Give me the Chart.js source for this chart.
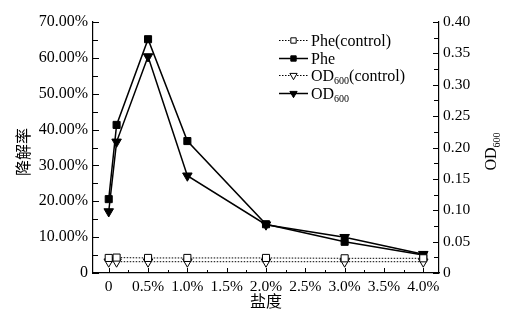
<!DOCTYPE html>
<html><head><meta charset="utf-8">
<script src="https://cdn.jsdelivr.net/npm/chart.js@4/dist/chart.umd.min.js"></script>
<style>html,body{margin:0;padding:0;background:#fff}canvas{display:block}</style>
</head><body>
<canvas id="c" width="523" height="315"></canvas>
<script>
// ---- data ----
const salinity = [0, 0.1, 0.5, 1.0, 2.0, 3.0, 4.0];
const pheControl = [4.2, 4.3, 4.2, 4.2, 4.2, 4.1, 4.1];
const phe = [20.6, 41.3, 65.2, 36.8, 13.6, 8.7, 5.0];
const odControl = [0.018, 0.018, 0.018, 0.018, 0.018, 0.018, 0.018];
const od = [0.098, 0.209, 0.345, 0.155, 0.077, 0.057, 0.030];
const seriesLabels = ['Phe(control)', 'Phe', 'OD600(control)', 'OD600'];
const xTickValues = [0, 0.5, 1.0, 1.5, 2.0, 2.5, 3.0, 3.5, 4.0];
const xTickLabels = ['0', '0.5%', '1.0%', '1.5%', '2.0%', '2.5%', '3.0%', '3.5%', '4.0%'];
const leftTickValues = [0, 10, 20, 30, 40, 50, 60, 70];
const leftTickLabels = ['0', '10.00%', '20.00%', '30.00%', '40.00%', '50.00%', '60.00%', '70.00%'];
const rightTickValues = [0, 0.05, 0.10, 0.15, 0.20, 0.25, 0.30, 0.35, 0.40];
const rightTickLabels = ['0', '0.05', '0.10', '0.15', '0.20', '0.25', '0.30', '0.35', '0.40'];
const xTitle = '盐度';
const leftTitle = '降解率';
const rightTitle = 'OD600';

// ---- build ----
const SERIF = "'Liberation Serif','Times New Roman','Noto Sans CJK SC',serif";
const pts = arr => salinity.map((x, i) => ({x: x, y: arr[i]}));

const styles = [
  {data: pheControl, axis: 'yL', dash: [1.5, 1.5], width: 1, style: 'rect', rot: 0, fill: '#fff', r: 5},
  {data: phe, axis: 'yL', dash: [], width: 1.5, style: 'rect', rot: 0, fill: '#000', r: 5},
  {data: odControl, axis: 'yR', dash: [1.5, 1.5], width: 1, style: 'triangle', rot: 180, fill: '#fff', r: 5.5},
  {data: od, axis: 'yR', dash: [], width: 1.5, style: 'triangle', rot: 180, fill: '#000', r: 5.5}
];

const datasets = styles.map((s, i) => ({
  label: seriesLabels[i],
  data: pts(s.data),
  yAxisID: s.axis,
  borderColor: '#000',
  borderWidth: s.width,
  borderDash: s.dash,
  tension: 0,
  fill: false,
  pointStyle: s.style,
  pointRotation: s.rot,
  pointRadius: s.r,
  pointHoverRadius: s.r,
  pointBackgroundColor: s.fill,
  pointBorderColor: '#000',
  pointBorderWidth: 1
}));

function setTicks(values) {
  return function(scale) { scale.ticks = values.map(v => ({value: v})); };
}

function drawRich(ctx, text, x, y, size, align) {
  // draws text where "600" after "OD" is a subscript
  const m = text.match(/^(OD)(600)(.*)$/);
  const big = size + "px " + SERIF, small = Math.round(size * 0.62) + "px " + SERIF;
  ctx.textBaseline = 'alphabetic';
  ctx.textAlign = 'left';
  if (!m) {
    ctx.font = big;
    let w = ctx.measureText(text).width;
    let sx = align === 'center' ? x - w / 2 : x;
    ctx.fillText(text, sx, y);
    return;
  }
  ctx.font = big; const w1 = ctx.measureText(m[1]).width;
  ctx.font = small; const w2 = ctx.measureText(m[2]).width;
  ctx.font = big; const w3 = ctx.measureText(m[3]).width;
  let sx = align === 'center' ? x - (w1 + w2 + w3) / 2 : x;
  ctx.font = big; ctx.fillText(m[1], sx, y);
  ctx.font = small; ctx.fillText(m[2], sx + w1, y + size * 0.22);
  ctx.font = big; ctx.fillText(m[3], sx + w1 + w2, y);
}

const inwardTicks = {
  id: 'inwardTicks',
  beforeDatasetsDraw(chart) {
    const ctx = chart.ctx, a = chart.chartArea;
    const xs = chart.scales.x, yl = chart.scales.yL, yr = chart.scales.yR;
    ctx.save();
    ctx.strokeStyle = '#000';
    ctx.lineWidth = 1;
    const minor = vals => { const o = []; for (let i = 0; i < vals.length - 1; i++) o.push((vals[i] + vals[i + 1]) / 2); return o; };
    ctx.beginPath();
    xTickValues.forEach(v => { const p = Math.round(xs.getPixelForValue(v)) + 0.5; ctx.moveTo(p, a.bottom); ctx.lineTo(p, a.bottom - 5); });
    minor(xTickValues).forEach(v => { const p = Math.round(xs.getPixelForValue(v)) + 0.5; ctx.moveTo(p, a.bottom); ctx.lineTo(p, a.bottom - 3); });
    leftTickValues.forEach(v => { const p = Math.round(yl.getPixelForValue(v)) + 0.5; ctx.moveTo(a.left, p); ctx.lineTo(a.left + 6, p); });
    minor(leftTickValues).forEach(v => { const p = Math.round(yl.getPixelForValue(v)) + 0.5; ctx.moveTo(a.left, p); ctx.lineTo(a.left + 5, p); });
    rightTickValues.forEach(v => { const p = Math.round(yr.getPixelForValue(v)) + 0.5; ctx.moveTo(a.right, p); ctx.lineTo(a.right - 6, p); });
    minor(rightTickValues).forEach(v => { const p = Math.round(yr.getPixelForValue(v)) + 0.5; ctx.moveTo(a.right, p); ctx.lineTo(a.right - 5, p); });
    ctx.stroke();
    ctx.restore();
  }
};

const customText = {
  id: 'customText',
  afterDraw(chart) {
    const ctx = chart.ctx, a = chart.chartArea;
    // left axis title, rotated to read bottom-to-top
    ctx.save();
    ctx.fillStyle = '#000';
    ctx.translate(25, 152);
    ctx.rotate(-Math.PI / 2);
    ctx.font = "16px " + SERIF;
    ctx.textAlign = 'center';
    ctx.textBaseline = 'middle';
    ctx.fillText(leftTitle, 0, 0);
    ctx.restore();

    // right axis title, rotated to read bottom-to-top
    ctx.save();
    ctx.fillStyle = '#000';
    ctx.translate(491, (a.top + a.bottom) / 2 + 4);
    ctx.rotate(-Math.PI / 2);
    drawRich(ctx, rightTitle, 0, 5, 16, 'center');
    ctx.restore();

    // legend
    const lx0 = 279, lx1 = 308, mx = 293.5, tx = 311;
    const rows = [40, 57.5, 75, 92.5];
    chart.data.datasets.forEach((ds, i) => {
      const y = Math.round(rows[i]);
      ctx.save();
      ctx.strokeStyle = '#000';
      ctx.lineWidth = ds.borderWidth;
      ctx.setLineDash(ds.borderDash);
      ctx.beginPath(); ctx.moveTo(lx0, y + 0.5); ctx.lineTo(lx1, y + 0.5); ctx.stroke();
      ctx.setLineDash([]);
      ctx.fillStyle = ds.pointBackgroundColor;
      ctx.lineWidth = 1;
      Chart.helpers.drawPoint(ctx, {pointStyle: ds.pointStyle, rotation: ds.pointRotation, radius: ds.pointStyle === 'rect' ? 3.8 : 4.2, borderWidth: 1}, mx, y + 0.5);
      ctx.fillStyle = '#000';
      drawRich(ctx, ds.label, tx, y + 5.5, 16, 'left');
      ctx.restore();
    });
  }
};

new Chart(document.getElementById('c'), {
  type: 'line',
  data: {datasets: datasets},
  plugins: [inwardTicks, customText],
  options: {
    responsive: false,
    animation: false,
    devicePixelRatio: 1,
    layout: {padding: {top: 22, left: 0, right: 0, bottom: 0}},
    plugins: {legend: {display: false}, tooltip: {enabled: false}},
    scales: {
      x: {
        type: 'linear', min: -0.2, max: 4.2,
        afterBuildTicks: setTicks(xTickValues),
        afterFit: s => { s.height = 42; },
        grid: {display: false, drawTicks: false},
        border: {display: true, color: '#000', width: 1.2},
        ticks: {
          color: '#000', padding: 5, maxRotation: 0, autoSkip: false,
          font: {family: SERIF, size: 15.5},
          callback: (v, i) => xTickLabels[i]
        },
        title: {display: true, text: xTitle, color: '#000', font: {family: SERIF, size: 16}, padding: {top: 0, bottom: 3}}
      },
      yL: {
        type: 'linear', position: 'left', min: 0, max: 70,
        afterBuildTicks: setTicks(leftTickValues),
        afterFit: s => { s.width = 93; },
        grid: {display: false, drawTicks: false},
        border: {display: true, color: '#000', width: 1.2},
        ticks: {
          color: '#000', padding: 5, autoSkip: false,
          font: {family: SERIF, size: 16},
          callback: (v, i) => leftTickLabels[i]
        }
      },
      yR: {
        type: 'linear', position: 'right', min: 0, max: 0.4,
        afterBuildTicks: setTicks(rightTickValues),
        afterFit: s => { s.width = 84; },
        grid: {display: false, drawTicks: false},
        border: {display: true, color: '#000', width: 1.2},
        ticks: {
          color: '#000', padding: 4, autoSkip: false,
          font: {family: SERIF, size: 15.5},
          callback: (v, i) => rightTickLabels[i]
        }
      }
    }
  }
});
</script>
</body></html>
